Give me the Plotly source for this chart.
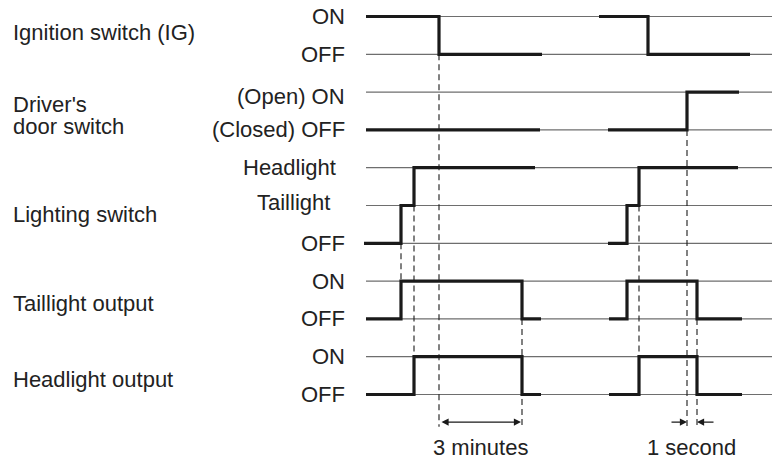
import plotly.graph_objects as go

# ---------------- data (time in arbitrary units along the chart) ----------------
signal_names = ["Ignition switch (IG)", "Driver's", "door switch", "Lighting switch",
                "Taillight output", "Headlight output"]

# each signal: list of segments (times, states); state 0 = lowest level
ig_times_1 = [366, 439, 439, 542]
ig_states_1 = [1, 1, 0, 0]
ig_times_2 = [599, 648, 648, 750]
ig_states_2 = [1, 1, 0, 0]

door_times_1 = [366, 540]
door_states_1 = [0, 0]
door_times_2 = [608, 687, 687, 739]
door_states_2 = [0, 0, 1, 1]

ls_times_1 = [364, 401, 401, 414, 414, 535]
ls_states_1 = [0, 0, 1, 1, 2, 2]
ls_times_2 = [608, 627, 627, 639, 639, 738]
ls_states_2 = [0, 0, 1, 1, 2, 2]

tl_times_1 = [366, 401, 401, 522, 522, 541]
tl_states_1 = [0, 0, 1, 1, 0, 0]
tl_times_2 = [609, 627, 627, 697, 697, 742]
tl_states_2 = [0, 0, 1, 1, 0, 0]

hl_times_1 = [366, 414, 414, 522, 522, 541]
hl_states_1 = [0, 0, 1, 1, 0, 0]
hl_times_2 = [609, 639, 639, 697, 697, 742]
hl_states_2 = [0, 0, 1, 1, 0, 0]

level_labels = [["ON", "OFF"], ["(Open) ON", "(Closed) OFF"],
                ["Headlight", "Taillight", "OFF"], ["ON", "OFF"], ["ON", "OFF"]]

interval_labels = ["3 minutes", "1 second"]

# ---------------- layout of rows (grid line index) ----------------
row_base = [1, 3, 6, 8, 10]          # index of the OFF line of each signal
n_lines = 11
line_x0, line_x1 = 366, 772
PX0, PXSTEP = 16.5, 37.8               # pixel position of line 0 and spacing
FIG_W, FIG_H = 772, 461

fig = go.Figure()

THIN = dict(color="#6e6e6e", width=1.2)
THICK = dict(color="#1a1a1a", width=3.2)
DASH = dict(color="#1a1a1a", width=1.1, dash="6px,4px")

# thin reference lines
for k in range(n_lines):
    fig.add_trace(go.Scatter(x=[line_x0, line_x1], y=[k, k], mode="lines",
                             line=THIN, hoverinfo="skip", showlegend=False))

signals = [
    (0, [(ig_times_1, ig_states_1), (ig_times_2, ig_states_2)]),
    (1, [(door_times_1, door_states_1), (door_times_2, door_states_2)]),
    (2, [(ls_times_1, ls_states_1), (ls_times_2, ls_states_2)]),
    (3, [(tl_times_1, tl_states_1), (tl_times_2, tl_states_2)]),
    (4, [(hl_times_1, hl_states_1), (hl_times_2, hl_states_2)]),
]
for row, segs in signals:
    for t, s in segs:
        fig.add_trace(go.Scatter(x=t, y=[row_base[row] - v for v in s], mode="lines",
                                 line=THICK, hoverinfo="skip", showlegend=False))

arrow_y = 10.73
dash_end = 10.85
dashed = [
    (ls_times_1[1], row_base[2], row_base[3] - 1),          # lighting -> taillight out
    (ls_times_1[3], row_base[2] - 1, row_base[4] - 1),      # taillight level -> headlight out
    (ig_times_1[1], row_base[0], dash_end),                 # IG off
    (tl_times_1[3], row_base[3], dash_end),                 # outputs off
    (ls_times_2[3], row_base[2] - 1, row_base[4] - 1),
    (door_times_2[1], row_base[1], dash_end),               # door open
    (tl_times_2[3], row_base[3], dash_end),                 # outputs off
]
for x, y0, y1 in dashed:
    fig.add_trace(go.Scatter(x=[x, x], y=[y0, y1], mode="lines", line=DASH,
                             hoverinfo="skip", showlegend=False))

FONT = dict(family="Liberation Sans, Arial, Helvetica, sans-serif", size=22, color="#222")
annotations = []

# left-hand signal names
name_rows = [0.43, 2.34, 2.9, 5.25, 7.6, 9.6]
for name, yy in zip(signal_names, name_rows):
    annotations.append(dict(x=11, y=yy, xref="x", yref="y", text=name, showarrow=False,
                            xanchor="left", yanchor="middle", font=FONT, align="left"))

# level labels (right aligned)
label_right = {2: [338, 332, 347]}
label_dy = {1: [0.12, -0.02], 2: [0, -0.07, 0]}
for row, labels in enumerate(level_labels):
    top = row_base[row] - (len(labels) - 1)
    for j, lab in enumerate(labels):
        xr = label_right.get(row, [347] * len(labels))[j]
        dy = label_dy.get(row, [0] * len(labels))[j]
        annotations.append(dict(x=xr, y=top + j + dy, xref="x", yref="y", text=lab,
                                showarrow=False, xanchor="right", yanchor="middle",
                                font=FONT))

# 3 minutes double arrow
a0, a1 = ig_times_1[1], tl_times_1[3]
annotations.append(dict(x=a1 - 1, y=arrow_y, ax=a0 + 1, ay=arrow_y, xref="x", yref="y",
                        axref="x", ayref="y", showarrow=True, arrowhead=2,
                        arrowside="end+start", arrowsize=1.3, arrowwidth=1.1,
                        arrowcolor="#1a1a1a", text=""))
# 1 second inward arrows
b0, b1 = door_times_2[1], tl_times_2[3]
annotations.append(dict(x=b0, y=arrow_y, ax=b0 - 17, ay=arrow_y, xref="x", yref="y",
                        axref="x", ayref="y", showarrow=True, arrowhead=2, arrowsize=1.3,
                        arrowwidth=1.1, arrowcolor="#1a1a1a", text=""))
annotations.append(dict(x=b1, y=arrow_y, ax=b1 + 18, ay=arrow_y, xref="x", yref="y",
                        axref="x", ayref="y", showarrow=True, arrowhead=2, arrowsize=1.3,
                        arrowwidth=1.1, arrowcolor="#1a1a1a", text=""))

label_y = 11.4
annotations.append(dict(x=(a0 + a1) / 2, y=label_y, xref="x", yref="y",
                        text=interval_labels[0], showarrow=False, font=FONT))
annotations.append(dict(x=(b0 + b1) / 2 - 1, y=label_y, xref="x", yref="y",
                        text=interval_labels[1], showarrow=False, font=FONT))

y_top = (0 - PX0) / PXSTEP
y_bot = (FIG_H - PX0) / PXSTEP

fig.update_layout(
    width=FIG_W, height=FIG_H,
    margin=dict(l=0, r=0, t=0, b=0),
    paper_bgcolor="white", plot_bgcolor="white",
    xaxis=dict(range=[0, FIG_W], visible=False, fixedrange=True),
    yaxis=dict(range=[y_bot, y_top], visible=False, fixedrange=True),
    annotations=annotations,
    showlegend=False,
)

fig.write_html("out.html", config={"displayModeBar": False},
               post_script="document.body.style.margin='0';document.body.style.overflow='hidden';")
